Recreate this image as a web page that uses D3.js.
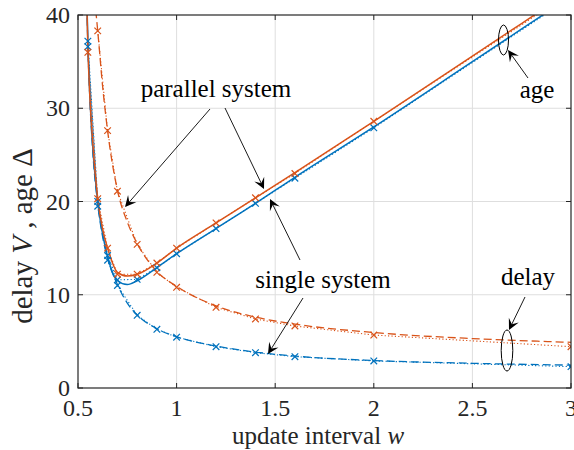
<!DOCTYPE html>
<html>
<head>
<meta charset="utf-8">
<script src="https://cdn.jsdelivr.net/npm/d3@7"></script>
<style>
  html, body { margin: 0; padding: 0; background: #fff; }
  svg { display: block; }
</style>
</head>
<body>
<svg id="chart" width="574" height="450"></svg>
<script>
// ---------------- data ----------------
// analytic curves (smooth)
const wAna = [0.545, 0.55, 0.56, 0.575, 0.6, 0.625, 0.65, 0.7, 0.75, 0.8, 0.9, 1.0, 1.2, 1.4, 1.6, 2.0, 2.5, 3.0];
const singleAge = [41.5, 37.3, 31.5, 25.8, 20.0, 16.5, 14.1, 11.5, 11.1, 11.5, 12.9, 14.4, 17.1, 19.8, 22.6, 28.0, 35.0, 42.0];
const parallelAge = [41.0, 36.6, 31.3, 26.2, 20.3, 17.0, 15.0, 12.4, 12.0, 12.2, 13.4, 15.0, 17.7, 20.4, 23.1, 28.6, 35.6, 42.6];
const singleDelay = [41.0, 36.8, 31.0, 25.3, 19.7, 16.2, 13.9, 11.1, 9.1, 7.85, 6.35, 5.5, 4.5, 3.85, 3.42, 2.95, 2.65, 2.45];
const wParDelay = [0.59, 0.6, 0.625, 0.65, 0.7, 0.75, 0.8, 0.9, 1.0, 1.2, 1.4, 1.6, 2.0, 2.5, 3.0];
const parallelDelay = [40.5, 38.3, 32.3, 27.6, 21.2, 17.8, 15.5, 12.5, 10.9, 8.8, 7.6, 6.85, 5.95, 5.3, 4.9];

// simulation points (dotted + x markers)
const wSim = [0.55, 0.6, 0.65, 0.7, 0.8, 0.9, 1.0, 1.2, 1.4, 1.6, 2.0, 3.0];
const singleAgeSim = [37.2, 20.0, 14.2, 11.6, 11.65, 12.9, 14.4, 17.1, 19.8, 22.5, 27.9, 41.9];
const parallelAgeSim = [36.0, 20.3, 15.0, 12.2, 12.2, 13.4, 15.0, 17.7, 20.4, 23.0, 28.6, 42.4];
const singleDelaySim = [36.6, 19.5, 13.7, 11.0, 7.8, 6.3, 5.45, 4.43, 3.79, 3.36, 2.9, 2.29];
const parallelDelaySim = [null, 38.3, 27.6, 21.1, 15.4, 12.4, 10.8, 8.65, 7.4, 6.65, 5.68, 4.43];

const xTicks = [0.5, 1, 1.5, 2, 2.5, 3];
const xTickLabels = ["0.5", "1", "1.5", "2", "2.5", "3"];
const yTicks = [0, 10, 20, 30, 40];
const yTickLabels = ["0", "10", "20", "30", "40"];

const BLUE = "#0072BD", ORANGE = "#D95319";
const FONT = "Liberation Serif";

// ---------------- layout ----------------
const svg = d3.select("#chart").attr("font-family", FONT);
const L = 78, R = 571, T = 15, B = 388;
const x = d3.scaleLinear().domain([0.5, 3]).range([L, R]);
const y = d3.scaleLinear().domain([0, 40]).range([B, T]);

svg.append("defs").append("clipPath").attr("id", "clip")
  .append("rect").attr("x", L).attr("y", T).attr("width", R - L).attr("height", B - T);

// grid
const grid = svg.append("g");
grid.selectAll(".gx").data(xTicks.slice(1, -1)).join("line")
  .attr("x1", d => x(d)).attr("x2", d => x(d)).attr("y1", T).attr("y2", B)
  .attr("stroke", "#dedede").attr("stroke-width", 1);
grid.selectAll(".gy").data(yTicks.slice(1, -1)).join("line")
  .attr("y1", d => y(d)).attr("y2", d => y(d)).attr("x1", L).attr("x2", R)
  .attr("stroke", "#dedede").attr("stroke-width", 1);

// plot layer
const plot = svg.append("g").attr("clip-path", "url(#clip)");

function zip(ws, vs) { return ws.map((w, i) => [w, vs[i]]); }

const smooth = d3.line().defined(d => d[1] != null)
  .x(d => x(d[0])).y(d => y(d[1])).curve(d3.curveMonotoneX);
const straight = d3.line().defined(d => d[1] != null)
  .x(d => x(d[0])).y(d => y(d[1]));

// simulation dotted lines
[[singleAgeSim, BLUE], [parallelAgeSim, ORANGE], [singleDelaySim, BLUE], [parallelDelaySim, ORANGE]].forEach(([vals, c]) => {
  plot.append("path").attr("d", straight(zip(wSim, vals)))
    .attr("fill", "none").attr("stroke", c).attr("stroke-width", 1.1)
    .attr("stroke-dasharray", "1.2,2.2");
});

// analytic lines
plot.append("path").attr("d", smooth(zip(wAna, singleDelay)))
  .attr("fill", "none").attr("stroke", BLUE).attr("stroke-width", 1.3).attr("stroke-dasharray", "8,4");
plot.append("path").attr("d", smooth(zip(wParDelay, parallelDelay)))
  .attr("fill", "none").attr("stroke", ORANGE).attr("stroke-width", 1.3).attr("stroke-dasharray", "8,4");
plot.append("path").attr("d", smooth(zip(wAna, singleAge)))
  .attr("fill", "none").attr("stroke", BLUE).attr("stroke-width", 1.5);
plot.append("path").attr("d", smooth(zip(wAna, parallelAge)))
  .attr("fill", "none").attr("stroke", ORANGE).attr("stroke-width", 1.5);

// markers
const ms = 3.3;
[[singleDelaySim, BLUE], [parallelDelaySim, ORANGE], [singleAgeSim, BLUE], [parallelAgeSim, ORANGE]].forEach(([vals, c]) => {
  const pts = zip(wSim, vals).filter(d => d[1] != null && d[1] <= 40);
  plot.append("g").selectAll("path").data(pts).join("path")
    .attr("d", d => {
      const px = x(d[0]), py = y(d[1]);
      return `M${px - ms},${py - ms}L${px + ms},${py + ms}M${px - ms},${py + ms}L${px + ms},${py - ms}`;
    })
    .attr("stroke", c).attr("stroke-width", 1.2).attr("fill", "none");
});

// axes box
const axc = "#262626";
svg.append("rect").attr("x", L).attr("y", T).attr("width", R - L).attr("height", B - T)
  .attr("fill", "none").attr("stroke", axc).attr("stroke-width", 1.2);
const tl = 5;
xTicks.forEach(t => {
  svg.append("line").attr("x1", x(t)).attr("x2", x(t)).attr("y1", B).attr("y2", B - tl).attr("stroke", axc);
  svg.append("line").attr("x1", x(t)).attr("x2", x(t)).attr("y1", T).attr("y2", T + tl).attr("stroke", axc);
});
yTicks.forEach(t => {
  svg.append("line").attr("y1", y(t)).attr("y2", y(t)).attr("x1", L).attr("x2", L + tl).attr("stroke", axc);
  svg.append("line").attr("y1", y(t)).attr("y2", y(t)).attr("x1", R).attr("x2", R - tl).attr("stroke", axc);
});

// tick labels
svg.append("g").selectAll("text").data(xTicks).join("text")
  .attr("x", d => x(d)).attr("y", 416).attr("text-anchor", "middle")
  .attr("font-family", FONT).attr("fill", "#262626")
  .attr("font-size", 24).text((d, i) => xTickLabels[i]);
svg.append("g").selectAll("text").data(yTicks).join("text")
  .attr("x", 70).attr("y", d => y(d) + 8).attr("text-anchor", "end")
  .attr("font-family", FONT).attr("fill", "#262626")
  .attr("font-size", 24).text((d, i) => yTickLabels[i]);

// axis labels
const xl = svg.append("text").attr("x", 318).attr("y", 444).attr("text-anchor", "middle")
  .attr("font-family", FONT).attr("fill", "#262626").attr("font-size", 25);
xl.append("tspan").text("update interval ");
xl.append("tspan").attr("font-style", "italic").text("w");

const yl = svg.append("text").attr("transform", `translate(32,236) rotate(-90)`)
  .attr("font-family", FONT).attr("fill", "#262626")
  .attr("text-anchor", "middle").attr("font-size", 29);
yl.append("tspan").text("delay ");
yl.append("tspan").attr("font-style", "italic").text("V");
yl.append("tspan").text(" , age Δ");

// ---------------- annotations ----------------
const ann = svg.append("g");
function arrow(x1, y1, x2, y2) {
  const dx = x2 - x1, dy = y2 - y1, len = Math.hypot(dx, dy);
  const ux = dx / len, uy = dy / len, nx = -uy, ny = ux;
  const hl = 11, hw = 5.5, back = 6.5;
  ann.append("line").attr("x1", x1).attr("y1", y1)
    .attr("x2", x2 - ux * back).attr("y2", y2 - uy * back)
    .attr("stroke", "#000").attr("stroke-width", 0.9);
  const p = [
    [x2, y2],
    [x2 - ux * hl + nx * hw, y2 - uy * hl + ny * hw],
    [x2 - ux * back, y2 - uy * back],
    [x2 - ux * hl - nx * hw, y2 - uy * hl - ny * hw]
  ];
  ann.append("path").attr("d", "M" + p.map(q => q.join(",")).join("L") + "Z").attr("fill", "#000");
}
function label(tx, ty, s) {
  ann.append("text").attr("x", tx).attr("y", ty).attr("text-anchor", "middle")
    .attr("font-family", FONT).attr("fill", "#000").attr("font-size", 25).text(s);
}
label(216, 97, "parallel system");
arrow(210, 109, 125, 207);
arrow(225, 108, 264, 189);

label(323, 288, "single system");
arrow(300, 260, 270, 199);
arrow(303, 298, 268, 354);

label(537, 98, "age");
ann.append("ellipse").attr("cx", 503.5).attr("cy", 40).attr("rx", 5).attr("ry", 15)
  .attr("fill", "none").attr("stroke", "#000").attr("stroke-width", 1);
arrow(528, 78, 508, 50);

label(528, 285, "delay");
ann.append("ellipse").attr("cx", 507).attr("cy", 350.5).attr("rx", 5.8).attr("ry", 20.5)
  .attr("fill", "none").attr("stroke", "#000").attr("stroke-width", 1);
arrow(525, 297, 509, 330);
</script>
</body>
</html>
